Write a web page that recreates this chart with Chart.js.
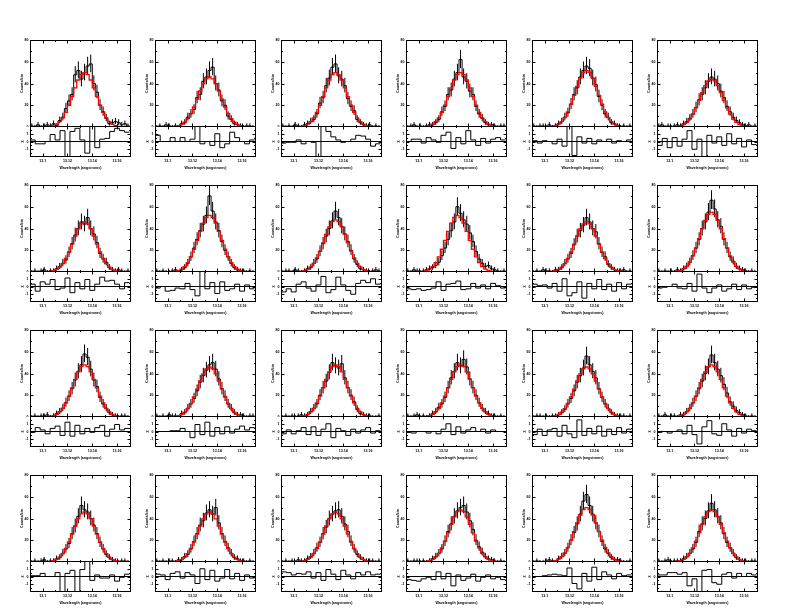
<!DOCTYPE html>
<html><head><meta charset="utf-8">
<script src="https://cdn.jsdelivr.net/npm/chart.js@4"></script>
<style>
html,body{margin:0;padding:0;background:#fff;}
#wrap{position:relative;width:792px;height:612px;overflow:hidden;background:#fff;}
#wrap canvas{position:absolute;}
</style></head><body><div id="wrap"></div>
<script>
// ---- axis values ----
const xMin = 13.0898, xMax = 13.1712;
const binStart = 13.09, binWidth = 0.0025;      // 32 spectral bins
const residStart = 13.09, residWidth = 0.004;   // 20 residual bins
const xTicks = [13.10, 13.12, 13.14, 13.16];
const xTickLabels = ['13.1', '13.12', '13.14', '13.16'];
const xMinorTicks = [13.09, 13.11, 13.13, 13.15, 13.17];
const countTicks = [0, 20, 40, 60, 80];
const countMinorTicks = [10, 30, 50, 70];
const residTicks = [-1, 0, 1];
const residMinorTicks = [-1.5, -0.5, 0.5, 1.5];

// ---- fitted model profiles (counts/bin) ----
const modelP44 = [0.3,0.3,0.3,0.3,0.3,0.3,0.5,1.1,2.3,4.3,7.3,11.8,17.6,24.6,31.7,38,42.4,44,42.4,38,31.7,24.6,17.6,11.8,7.3,4.3,2.3,1.1,0.5,0.3,0.3,0.3];
const modelP46 = [0.3,0.3,0.3,0.3,0.3,0.3,0.6,1.2,2.4,4.5,7.7,12.4,18.4,25.7,33.1,39.7,44.3,46,44.3,39.7,33.1,25.7,18.4,12.4,7.7,4.5,2.4,1.2,0.6,0.3,0.3,0.3];
const modelP48 = [0.3,0.3,0.3,0.3,0.3,0.3,0.6,1.2,2.5,4.7,8.0,12.9,19.2,26.8,34.6,41.5,46.3,48,46.3,41.5,34.6,26.8,19.2,12.9,8.0,4.7,2.5,1.2,0.6,0.3,0.3,0.3];
const modelP50 = [0.3,0.3,0.3,0.3,0.3,0.3,0.6,1.3,2.6,4.9,8.4,13.4,20,27.9,36,43.2,48.2,50,48.2,43.2,36,27.9,20,13.4,8.4,4.9,2.6,1.3,0.6,0.3,0.3,0.3];
const modelP52 = [0.3,0.3,0.3,0.3,0.3,0.3,0.6,1.4,2.7,5,8.7,14,20.9,29,37.4,44.9,50.1,52,50.1,44.9,37.4,29,20.9,14,8.7,5,2.7,1.4,0.6,0.3,0.3,0.3];
const modelP52L = [0.3,0.3,0.3,0.3,0.3,0.6,1.4,2.7,5,8.7,14,20.9,29,37.4,44.9,50.1,52,50.1,44.9,37.4,29,20.9,14,8.7,5,2.7,1.4,0.6,0.3,0.3,0.3,0.3];
const modelP55 = [0.3,0.3,0.3,0.3,0.3,0.3,0.7,1.4,2.9,5.3,9.2,14.8,22.1,30.7,39.6,47.5,53,55,53,47.5,39.6,30.7,22.1,14.8,9.2,5.3,2.9,1.4,0.7,0.3,0.3,0.3];

// ---- observed counts per panel (row by row) ----
const counts01 = [1,0,2,0,1,2,1,3,1,6,9,17,24,30,48,52,44,50,56,58,40,32,20,14,8,3,4,5,4,2,3,1];
const counts02 = [0,1,0,2,1,0,1,0,3,4,9,12,16,27,30,42,46,52,55,40,34,24,20,10,7,3,2,1,0,1,1,0];
const counts03 = [1,0,1,0,2,1,0,2,3,5,7,12,22,27,38,45,55,58,47,44,38,26,19,15,7,4,2,1,2,0,1,0];
const counts04 = [0,1,2,0,1,0,1,2,2,4,7,14,19,30,34,44,50,62,46,42,33,30,19,12,8,4,2,2,1,0,1,1];
const counts05 = [1,0,1,1,0,2,0,1,3,5,9,13,21,30,36,46,52,56,54,45,39,28,20,12,9,4,3,1,0,1,0,1];
const counts06 = [1,2,0,1,0,1,2,1,3,5,8,12,18,25,30,36,42,46,44,40,33,27,19,14,9,6,4,2,1,2,0,1];
const counts07 = [0,1,0,1,2,0,1,1,3,5,8,11,18,26,34,40,46,44,50,40,35,27,17,12,9,4,2,1,2,1,0,1];
const counts08 = [1,0,1,0,0,1,2,0,2,4,8,14,22,30,38,44,52,70,56,46,38,28,20,14,8,4,2,1,1,0,1,0];
const counts09 = [0,1,1,0,2,1,0,1,3,4,8,12,19,26,33,40,47,56,50,42,35,28,20,12,7,3,2,1,0,1,2,1];
const counts10 = [1,0,2,1,0,1,2,3,4,6,9,15,22,30,38,46,60,54,48,44,36,28,19,12,8,5,6,3,2,1,0,1];
const counts11 = [0,1,0,2,1,1,0,2,2,4,8,12,17,25,33,38,43,50,46,40,37,26,18,14,7,4,2,1,1,2,0,1];
const counts12 = [1,0,1,0,1,0,2,1,3,5,9,15,22,30,40,46,55,66,58,48,42,30,22,14,10,5,3,2,1,0,1,0];
const counts13 = [0,1,0,1,1,2,0,1,3,5,8,13,19,26,34,42,48,58,55,44,34,28,18,12,8,4,2,1,0,1,1,0];
const counts14 = [1,0,1,0,2,1,1,0,3,4,8,12,17,24,32,38,43,48,50,44,35,26,19,12,8,4,2,2,1,0,1,1];
const counts15 = [0,1,0,1,0,1,2,1,2,5,8,12,20,27,33,41,50,47,45,49,36,27,20,14,7,3,2,1,1,0,0,1];
const counts16 = [1,0,1,2,0,1,0,1,3,5,9,12,18,27,36,42,50,47,53,46,35,27,20,13,8,5,3,1,1,0,1,0];
const counts17 = [0,1,1,0,1,0,1,1,2,4,7,12,17,24,32,38,45,56,48,42,36,26,18,12,8,4,2,1,1,1,0,1];
const counts18 = [1,0,2,0,1,1,0,2,2,5,8,13,19,26,33,40,46,57,50,44,38,30,22,14,10,6,4,2,1,0,1,0];
const counts19 = [0,1,0,1,2,0,1,1,3,4,8,12,17,26,33,42,52,48,46,40,34,26,18,12,7,4,2,1,0,1,1,0];
const counts20 = [1,0,1,0,1,1,0,2,2,5,7,12,19,26,34,38,45,48,44,50,36,26,19,13,8,4,3,1,1,0,1,0];
const counts21 = [0,1,0,1,0,2,1,1,3,5,8,13,18,26,32,40,44,47,48,42,35,28,19,12,7,4,2,1,1,1,0,1];
const counts22 = [1,0,1,1,0,1,0,1,3,5,8,12,19,28,35,42,47,50,52,46,38,30,20,14,9,5,3,2,1,0,1,0];
const counts23 = [0,1,0,0,1,2,1,0,3,5,8,13,20,27,35,44,56,62,52,44,36,28,19,12,8,4,2,2,1,0,0,1];
const counts24 = [1,0,1,2,0,1,1,1,3,5,8,12,18,28,35,40,47,54,48,42,36,26,18,13,8,4,2,1,1,0,1,1];

// ---- residuals per panel ----
const resid01 = [0.2,-0.3,-0.3,0,0.9,0.2,1.4,-2.5,1.3,1.7,0.2,-1.5,2.5,-0.8,0.3,0.4,1.3,1.7,1.4,1.2];
const resid02 = [0.8,0,0,0.5,0,0.5,0,0.3,2.2,-0.3,0,-0.5,1,-0.8,-0.3,1.2,0.5,0,-0.3,0.2];
const resid03 = [-0.2,-0.1,-0.1,0.2,-0.3,0,-0.1,-2.5,2.2,1.3,0.6,0.2,-0.1,0,0.3,0.8,0.7,0.3,-0.6,-0.3];
const resid04 = [0,0.3,0.3,-0.2,0.5,0.2,-0.1,0.8,1.2,-0.9,0.5,-0.3,1.4,0.2,-0.5,0.4,-0.2,0.3,0.5,0.2];
const resid05 = [0.1,-0.2,0.1,0,-0.3,0.3,-0.6,2.2,-1.8,0.6,-0.2,0.4,-0.3,0.2,0,0.3,-0.2,0.1,0,0.2];
const resid06 = [-0.5,0.4,-0.8,0.5,-0.6,0.3,1.4,-1.0,0.3,-2.5,0.8,-0.2,0.6,-0.5,1.0,-0.3,0.4,-0.7,0.2,-0.4];
const resid07 = [0.3,-0.6,0.6,0.3,0.9,-0.4,-0.2,1.1,-0.8,0.5,-0.3,0.9,-0.5,0.3,1.2,0.7,0.8,0.3,-0.3,0.5];
const resid08 = [-0.2,0,-0.6,-0.5,-0.2,-0.3,0.4,-0.4,-1.2,2.3,-0.3,0.5,-0.9,0.6,-0.5,-0.3,0.3,-0.6,0.2,-0.3];
const resid09 = [-0.7,-0.3,-0.7,0.3,0.6,-0.2,-0.6,0.2,1.3,-0.8,-0.4,1.2,0.2,-0.5,-1.0,0.4,0.8,0.5,1.0,0.3];
const resid10 = [-0.3,-0.4,-0.3,-0.5,-0.4,-0.2,0.6,-0.5,0.3,0.4,0.7,-0.4,-0.3,0.4,-0.2,0.2,-0.3,0.4,0.1,-0.2];
const resid11 = [0.3,0.1,0.2,-0.2,0.4,-0.6,1.0,-1.2,-0.8,0.6,-1.5,0.4,-0.3,0.9,-0.4,0.3,-0.6,0.5,-0.3,0.3];
const resid12 = [-0.2,-0.1,0,0.3,-0.2,-0.3,0.4,-0.6,1.6,-0.2,-0.8,-0.2,0.2,-0.6,-0.3,0.3,-0.4,0.2,-0.3,-0.1];
const resid13 = [-0.1,0.5,0.2,-0.3,0.4,0.7,-0.5,1.2,-0.6,0.8,-0.3,0.4,-0.1,0.5,0.8,-0.6,0.3,0.9,0.2,0.4];
const resid14 = [0,0,0,0.1,0.1,0.4,0,-0.8,0.9,-0.4,1.2,-0.6,0.5,-0.3,0.6,-0.2,0.3,0.7,0.2,0.5];
const resid15 = [-0.3,0.2,-0.3,0.1,0.5,-0.4,0.6,-0.5,0.3,1.0,-0.8,0.4,0.1,-0.5,0.3,-0.2,0.2,0.5,-0.2,0.1];
const resid16 = [-0.1,-0.2,0,0,-0.2,0,-0.3,0.3,1.0,-0.4,0.6,-0.2,0.2,0.5,0,0.3,-0.2,0.2,0,0];
const resid17 = [-0.4,0.3,-0.5,0.2,0.4,-0.6,0.8,-0.3,-0.8,1.5,-0.5,0.4,-0.3,0.7,-0.6,0.3,-0.4,0.5,-0.2,0.3];
const resid18 = [-0.1,0,-0.2,0,0.2,-0.3,0.8,-0.4,-1.6,0.6,1.4,-0.3,-0.5,1.0,0.2,-0.6,0.4,-0.2,0.3,0.1];
const resid19 = [0.1,0.1,0.4,0,0,0.5,-2.5,0.4,0.8,-2.5,0.9,2.5,-0.5,0.2,-0.2,-0.2,0.2,-0.6,-0.1,0.3];
const resid20 = [0.3,0.2,-0.4,0.4,0.6,-0.2,0.5,0.2,-0.9,1.0,-0.4,0.8,-0.6,-0.2,0.9,-0.3,0.4,-0.5,0.2,-0.2];
const resid21 = [0.6,0.5,0.2,0.4,0.3,0.6,-0.2,0.5,-0.5,0.9,0.3,-0.4,0.8,0.2,-0.3,0.5,0.2,0.6,0.2,0.3];
const resid22 = [-0.4,-0.5,-0.6,-0.3,-0.1,-0.4,0.6,-0.3,0.4,-1.2,0.2,-0.5,-0.2,0.3,-0.6,-0.1,0.2,-0.3,-0.1,-0.4];
const resid23 = [0,0,0.1,0.2,0.3,0.2,0.1,1.1,-0.9,-1.6,0.4,-0.6,1.2,-0.4,0.6,0.2,-0.3,0.4,0.1,0.2];
const resid24 = [0.2,0.2,0.5,0.5,0.3,0.5,-1.2,-0.3,-2.5,0.8,0.9,-0.8,-1.0,0.3,0.5,-0.2,0.4,0,0.4,0.2];

const panelCounts = [counts01,counts02,counts03,counts04,counts05,counts06,counts07,counts08,counts09,counts10,counts11,counts12,
  counts13,counts14,counts15,counts16,counts17,counts18,counts19,counts20,counts21,counts22,counts23,counts24];
const panelModels = [modelP50,modelP46,modelP50,modelP50,modelP52,modelP44,modelP46,modelP52,modelP48,modelP52L,modelP46,modelP55,
  modelP48,modelP46,modelP48,modelP48,modelP46,modelP48,modelP46,modelP46,modelP46,modelP48,modelP50,modelP48];
const panelResid = [resid01,resid02,resid03,resid04,resid05,resid06,resid07,resid08,resid09,resid10,resid11,resid12,
  resid13,resid14,resid15,resid16,resid17,resid18,resid19,resid20,resid21,resid22,resid23,resid24];

// ---- layout ----
const colLeft = [30, 155, 281, 406, 532, 657];
const rowTop = [40, 185, 330, 475];
const plotW = 101, mainH = 87, residH = 31;
const axisW = 10, padR = 3, padT = 4, xAxisH = 14;
const font = {family: 'Liberation Sans', size: 3.6, weight: 'bold'};

function stepPoints(values, start, width) {
  const pts = values.map((v, i) => ({x: start + i * width, y: v}));
  pts.push({x: start + values.length * width, y: values[values.length - 1]});
  return pts;
}
function errorPoints(values, start, width) {
  const pts = [];
  values.forEach((n, i) => {
    const xc = start + (i + 0.5) * width;
    pts.push({x: xc, y: Math.max(0, n - Math.sqrt(n))}, {x: xc, y: n + 1 + Math.sqrt(n + 0.75)}, {x: xc, y: null});
  });
  return pts;
}
function noPad(s) { s.paddingTop = 0; s.paddingBottom = 0; s.paddingLeft = 0; s.paddingRight = 0; }
function framePlugin(xMaj, xMin_, yMaj, yMin_) {
  return {
    id: 'frame',
    afterDraw(chart) {
      const {ctx, chartArea: a} = chart;
      const xs = chart.scales.x, ys = chart.scales.y;
      const l = Math.round(a.left) + 0.5, r = Math.round(a.right) - 0.5;
      const t = Math.round(a.top) + 0.5, b = Math.round(a.bottom) - 0.5;
      ctx.save();
      ctx.strokeStyle = '#000'; ctx.lineWidth = 1;
      ctx.strokeRect(l, t, r - l, b - t);
      ctx.beginPath();
      const tx = (vals, len) => vals.forEach(v => {
        const p = Math.round(xs.getPixelForValue(v)) + 0.5;
        if (p < l || p > r) return;
        ctx.moveTo(p, t); ctx.lineTo(p, t + len); ctx.moveTo(p, b); ctx.lineTo(p, b - len);
      });
      const ty = (vals, len) => vals.forEach(v => {
        const p = Math.round(ys.getPixelForValue(v)) + 0.5;
        ctx.moveTo(l, p); ctx.lineTo(l + len, p); ctx.moveTo(r, p); ctx.lineTo(r - len, p);
      });
      tx(xMaj, 3); tx(xMin_, 1.5); ty(yMaj, 3); ty(yMin_, 1.5);
      ctx.stroke();
      ctx.restore();
    }
  };
}
const wrap = document.getElementById('wrap');
function makeCanvas(left, top, w, h) {
  const c = document.createElement('canvas');
  c.width = w; c.height = h;
  c.style.left = left + 'px'; c.style.top = top + 'px';
  c.style.width = w + 'px'; c.style.height = h + 'px';
  wrap.appendChild(c);
  return c;
}

for (let r = 0; r < 4; r++) {
  for (let c = 0; c < 6; c++) {
    const k = r * 6 + c;
    const L = colLeft[c], T = rowTop[r];
    const counts = panelCounts[k], model = panelModels[k], resid = panelResid[k];

    // main spectrum panel
    const cm = makeCanvas(L - axisW, T - padT, axisW + plotW + padR, padT + mainH);
    new Chart(cm, {
      type: 'line',
      data: {datasets: [
        {data: stepPoints(model, binStart, binWidth), borderColor: '#ff0000', borderWidth: 1.3, stepped: true, pointRadius: 0, fill: false},
        {data: stepPoints(counts, binStart, binWidth), borderColor: '#000', borderWidth: 1, stepped: true, pointRadius: 0, fill: false},
        {data: errorPoints(counts, binStart, binWidth), borderColor: '#000', borderWidth: 1, pointRadius: 0, spanGaps: false, fill: false}
      ]},
      options: {
        responsive: false, animation: false, devicePixelRatio: 1, events: [],
        layout: {padding: {top: padT, right: padR, left: 0, bottom: 0}},
        plugins: {legend: {display: false}, tooltip: {enabled: false}},
        scales: {
          x: {type: 'linear', min: xMin, max: xMax, display: false},
          y: {type: 'linear', min: 0, max: 80, position: 'left',
            afterFit: s => { s.width = axisW; noPad(s); },
            afterBuildTicks: s => { s.ticks = countTicks.map(v => ({value: v})); },
            grid: {display: false, drawTicks: false}, border: {display: false},
            ticks: {font: font, color: '#000', padding: 1.5},
            title: {display: true, text: 'Counts/bin', font: font, color: '#000', padding: 0}}
        }
      },
      plugins: [framePlugin(xTicks, xMinorTicks, countTicks, countMinorTicks)]
    });

    // residual panel
    const cr = makeCanvas(L - axisW, T + mainH - 1, axisW + plotW + padR, residH + xAxisH);
    new Chart(cr, {
      type: 'line',
      data: {datasets: [
        {data: stepPoints(resid, residStart, residWidth), borderColor: '#000', borderWidth: 1, stepped: true, pointRadius: 0, fill: false},
        {data: [{x: xMin, y: 0}, {x: xMax, y: 0}], borderColor: '#000', borderWidth: 1, pointRadius: 0, fill: false}
      ]},
      options: {
        responsive: false, animation: false, devicePixelRatio: 1, events: [],
        layout: {padding: {top: 0, right: padR, left: 0, bottom: 0}},
        plugins: {legend: {display: false}, tooltip: {enabled: false}},
        scales: {
          x: {type: 'linear', min: xMin, max: xMax, position: 'bottom',
            afterFit: s => { s.height = xAxisH; noPad(s); },
            afterBuildTicks: s => { s.ticks = xTicks.map(v => ({value: v})); },
            grid: {display: false, drawTicks: false}, border: {display: false},
            ticks: {font: font, color: '#000', padding: 2, maxRotation: 0, autoSkip: false,
              callback: (v, i) => xTickLabels[i]},
            title: {display: true, text: 'Wavelength (angstroms)', font: font, color: '#000', padding: {top: 0, bottom: 1}}},
          y: {type: 'linear', min: -2, max: 2, position: 'left',
            afterFit: s => { s.width = axisW; noPad(s); },
            afterBuildTicks: s => { s.ticks = residTicks.map(v => ({value: v})); },
            grid: {display: false, drawTicks: false}, border: {display: false},
            ticks: {font: font, color: '#000', padding: 1.5},
            title: {display: true, text: 'χ', font: font, color: '#000', padding: 0}}
        }
      },
      plugins: [framePlugin(xTicks, xMinorTicks, residTicks, residMinorTicks)]
    });
  }
}
</script></body></html>
